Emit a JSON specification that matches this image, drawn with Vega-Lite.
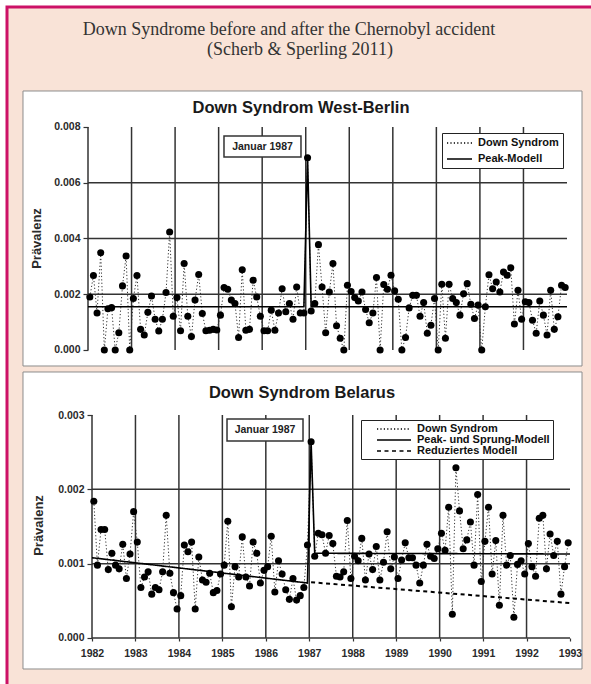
{
"$schema":"https://vega.github.io/schema/vega-lite/v6.json",
"width":591,"height":684,
"autosize":{"type":"fit","contains":"padding"},
"padding":{"left":7,"top":7,"right":-4,"bottom":-4},
"background":"white",
"view":{"fill":"#f9e3d7","stroke":"#cc1166","strokeWidth":3},
"datasets":{
"berlin":[
{"t":1982.042,"v":0.0019},{"t":1982.125,"v":0.00267},{"t":1982.208,"v":0.00133},{"t":1982.292,"v":0.00349},{"t":1982.375,"v":0},{"t":1982.458,"v":0.00148},{"t":1982.542,"v":0.00152},{"t":1982.625,"v":0},{"t":1982.708,"v":0.00062},{"t":1982.792,"v":0.0023},{"t":1982.875,"v":0.00337},{"t":1982.958,"v":0},
{"t":1983.042,"v":0.00185},{"t":1983.125,"v":0.00267},{"t":1983.208,"v":0.00074},{"t":1983.292,"v":0.00054},{"t":1983.375,"v":0.00135},{"t":1983.458,"v":0.00194},{"t":1983.542,"v":0.0011},{"t":1983.625,"v":0.00068},{"t":1983.708,"v":0.0011},{"t":1983.792,"v":0.00206},{"t":1983.875,"v":0.00423},{"t":1983.958,"v":0.00121},
{"t":1984.042,"v":0.00188},{"t":1984.125,"v":0.00069},{"t":1984.208,"v":0.0031},{"t":1984.292,"v":0.00121},{"t":1984.375,"v":0.00048},{"t":1984.458,"v":0.00179},{"t":1984.542,"v":0.00271},{"t":1984.625,"v":0.00131},{"t":1984.708,"v":0.00069},{"t":1984.792,"v":0.00071},{"t":1984.875,"v":0.00074},{"t":1984.958,"v":0.00072},
{"t":1985.042,"v":0.00125},{"t":1985.125,"v":0.00224},{"t":1985.208,"v":0.00218},{"t":1985.292,"v":0.00179},{"t":1985.375,"v":0.00167},{"t":1985.458,"v":0.00045},{"t":1985.542,"v":0.00288},{"t":1985.625,"v":0.00071},{"t":1985.708,"v":0.00074},{"t":1985.792,"v":0.0025},{"t":1985.875,"v":0.0019},{"t":1985.958,"v":0.00121},
{"t":1986.042,"v":0.00069},{"t":1986.125,"v":0.00069},{"t":1986.208,"v":0.00143},{"t":1986.292,"v":0.00071},{"t":1986.375,"v":0.00133},{"t":1986.458,"v":0.0022},{"t":1986.542,"v":0.00137},{"t":1986.625,"v":0.00167},{"t":1986.708,"v":0.0011},{"t":1986.792,"v":0.00226},{"t":1986.875,"v":0.00133},{"t":1986.958,"v":0.00133},
{"t":1987.042,"v":0.0069},{"t":1987.125,"v":0.0014},{"t":1987.208,"v":0.00167},{"t":1987.292,"v":0.00378},{"t":1987.375,"v":0.00226},{"t":1987.458,"v":0.00062},{"t":1987.542,"v":0.00208},{"t":1987.625,"v":0.0031},{"t":1987.708,"v":0.00087},{"t":1987.792,"v":0.00042},{"t":1987.875,"v":0},{"t":1987.958,"v":0.00232},
{"t":1988.042,"v":0.0021},{"t":1988.125,"v":0.00188},{"t":1988.208,"v":0.00176},{"t":1988.292,"v":0.00208},{"t":1988.375,"v":0.00145},{"t":1988.458,"v":0.00098},{"t":1988.542,"v":0.00133},{"t":1988.625,"v":0.0026},{"t":1988.708,"v":0},{"t":1988.792,"v":0.00235},{"t":1988.875,"v":0.00218},{"t":1988.958,"v":0.00268},
{"t":1989.042,"v":0.00212},{"t":1989.125,"v":0.00182},{"t":1989.208,"v":0},{"t":1989.292,"v":0.00045},{"t":1989.375,"v":0.00151},{"t":1989.458,"v":0.00196},{"t":1989.542,"v":0.00196},{"t":1989.625,"v":0.00121},{"t":1989.708,"v":0.0017},{"t":1989.792,"v":0.0006},{"t":1989.875,"v":0.00089},{"t":1989.958,"v":0.00185},
{"t":1990.042,"v":0},{"t":1990.125,"v":0.00236},{"t":1990.208,"v":0.00042},{"t":1990.292,"v":0.00236},{"t":1990.375,"v":0.00185},{"t":1990.458,"v":0.0017},{"t":1990.542,"v":0.00125},{"t":1990.625,"v":0.00202},{"t":1990.708,"v":0.00238},{"t":1990.792,"v":0.00164},{"t":1990.875,"v":0.00113},{"t":1990.958,"v":0.00161},
{"t":1991.042,"v":0},{"t":1991.125,"v":0.00155},{"t":1991.208,"v":0.0027},{"t":1991.292,"v":0.0022},{"t":1991.375,"v":0.00244},{"t":1991.458,"v":0.00208},{"t":1991.542,"v":0.0028},{"t":1991.625,"v":0.00268},{"t":1991.708,"v":0.00295},{"t":1991.792,"v":0.00093},{"t":1991.875,"v":0.00214},{"t":1991.958,"v":0.0011},
{"t":1992.042,"v":0.00173},{"t":1992.125,"v":0.0017},{"t":1992.208,"v":0.00107},{"t":1992.292,"v":0.0006},{"t":1992.375,"v":0.00176},{"t":1992.458,"v":0.00125},{"t":1992.542,"v":0.00054},{"t":1992.625,"v":0.00214},{"t":1992.708,"v":0.00074},{"t":1992.792,"v":0.00119},{"t":1992.875,"v":0.00232},{"t":1992.958,"v":0.00224}
],
"belarus":[
{"t":1982.042,"v":0.00184},{"t":1982.125,"v":0.00098},{"t":1982.208,"v":0.00146},{"t":1982.292,"v":0.00146},{"t":1982.375,"v":0.00092},{"t":1982.458,"v":0.00114},{"t":1982.542,"v":0.00098},{"t":1982.625,"v":0.00093},{"t":1982.708,"v":0.00126},{"t":1982.792,"v":0.0008},{"t":1982.875,"v":0.00113},{"t":1982.958,"v":0.0017},
{"t":1983.042,"v":0.00129},{"t":1983.125,"v":0.00068},{"t":1983.208,"v":0.00082},{"t":1983.292,"v":0.00089},{"t":1983.375,"v":0.00059},{"t":1983.458,"v":0.00068},{"t":1983.542,"v":0.00065},{"t":1983.625,"v":0.00089},{"t":1983.708,"v":0.00165},{"t":1983.792,"v":0.00087},{"t":1983.875,"v":0.00061},{"t":1983.958,"v":0.00039},
{"t":1984.042,"v":0.00057},{"t":1984.125,"v":0.00125},{"t":1984.208,"v":0.00116},{"t":1984.292,"v":0.00129},{"t":1984.375,"v":0.00039},{"t":1984.458,"v":0.00109},{"t":1984.542,"v":0.00078},{"t":1984.625,"v":0.00075},{"t":1984.708,"v":0.00087},{"t":1984.792,"v":0.00061},{"t":1984.875,"v":0.00064},{"t":1984.958,"v":0.00086},
{"t":1985.042,"v":0.00098},{"t":1985.125,"v":0.00157},{"t":1985.208,"v":0.00042},{"t":1985.292,"v":0.00096},{"t":1985.375,"v":0.00082},{"t":1985.458,"v":0.00136},{"t":1985.542,"v":0.00082},{"t":1985.625,"v":0.0007},{"t":1985.708,"v":0.00129},{"t":1985.792,"v":0.00114},{"t":1985.875,"v":0.00074},{"t":1985.958,"v":0.00091},
{"t":1986.042,"v":0.00096},{"t":1986.125,"v":0.00137},{"t":1986.208,"v":0.00062},{"t":1986.292,"v":0.00104},{"t":1986.375,"v":0.00086},{"t":1986.458,"v":0.00065},{"t":1986.542,"v":0.00052},{"t":1986.625,"v":0.0008},{"t":1986.708,"v":0.00051},{"t":1986.792,"v":0.00057},{"t":1986.875,"v":0.00068},{"t":1986.958,"v":0.00125},
{"t":1987.042,"v":0.00264},{"t":1987.125,"v":0.0011},{"t":1987.208,"v":0.00141},{"t":1987.292,"v":0.00139},{"t":1987.375,"v":0.00114},{"t":1987.458,"v":0.00138},{"t":1987.542,"v":0.00127},{"t":1987.625,"v":0.00083},{"t":1987.708,"v":0.00082},{"t":1987.792,"v":0.00089},{"t":1987.875,"v":0.00158},{"t":1987.958,"v":0.0008},
{"t":1988.042,"v":0.0011},{"t":1988.125,"v":0.00104},{"t":1988.208,"v":0.00134},{"t":1988.292,"v":0.00078},{"t":1988.375,"v":0.00113},{"t":1988.458,"v":0.00092},{"t":1988.542,"v":0.00123},{"t":1988.625,"v":0.00078},{"t":1988.708,"v":0.00102},{"t":1988.792,"v":0.00143},{"t":1988.875,"v":0.00093},{"t":1988.958,"v":0.00109},
{"t":1989.042,"v":0.0008},{"t":1989.125,"v":0.00105},{"t":1989.208,"v":0.00128},{"t":1989.292,"v":0.00108},{"t":1989.375,"v":0.00108},{"t":1989.458,"v":0.00098},{"t":1989.542,"v":0.00074},{"t":1989.625,"v":0.00098},{"t":1989.708,"v":0.00126},{"t":1989.792,"v":0.0011},{"t":1989.875,"v":0.00107},{"t":1989.958,"v":0.0012},
{"t":1990.042,"v":0.00141},{"t":1990.125,"v":0.00118},{"t":1990.208,"v":0.00176},{"t":1990.292,"v":0.00032},{"t":1990.375,"v":0.00229},{"t":1990.458,"v":0.00171},{"t":1990.542,"v":0.0012},{"t":1990.625,"v":0.00132},{"t":1990.708,"v":0.00156},{"t":1990.792,"v":0.00098},{"t":1990.875,"v":0.00193},{"t":1990.958,"v":0.00076},
{"t":1991.042,"v":0.0013},{"t":1991.125,"v":0.00176},{"t":1991.208,"v":0.00086},{"t":1991.292,"v":0.00131},{"t":1991.375,"v":0.00044},{"t":1991.458,"v":0.00165},{"t":1991.542,"v":0.00098},{"t":1991.625,"v":0.00111},{"t":1991.708,"v":0.00028},{"t":1991.792,"v":0.00099},{"t":1991.875,"v":0.00104},{"t":1991.958,"v":0.00086},
{"t":1992.042,"v":0.00127},{"t":1992.125,"v":0.00096},{"t":1992.208,"v":0.00083},{"t":1992.292,"v":0.00161},{"t":1992.375,"v":0.00165},{"t":1992.458,"v":0.00093},{"t":1992.542,"v":0.0014},{"t":1992.625,"v":0.00111},{"t":1992.708,"v":0.0013},{"t":1992.792,"v":0.00059},{"t":1992.875,"v":0.00096},{"t":1992.958,"v":0.00128}
],
"berlinModel":[{"t":1982,"m":0.00155},{"t":1986.958,"m":0.00155},{"t":1987.042,"m":0.0069},{"t":1987.125,"m":0.00155},{"t":1993,"m":0.00155}],
"belarusModel":[{"t":1982,"m":0.00108},{"t":1986.958,"m":0.00074},{"t":1987.042,"m":0.00264},{"t":1987.125,"m":0.00114},{"t":1993,"m":0.00113}],
"belarusReduced":[{"t":1987.042,"m":0.00075},{"t":1993,"m":0.00047}]
},
"layer":[
 {"data":{"values":[{}]},"mark":{"type":"rect","fill":"white","stroke":"#8c8c8c","strokeWidth":1},
  "encoding":{"x":{"datum":1980.5073,"type":"quantitative","scale":{"domain":[1980.13987,1993.643],"nice":false,"zero":false},"axis":null},"x2":{"datum":1993.3445},
   "y":{"datum":0.0092915,"type":"quantitative","scale":{"domain":[-0.0121256,0.0123049],"nice":false,"zero":false},"axis":null},"y2":{"datum":-0.000574}}},
 {"data":{"values":[{"yr":1982},{"yr":1983},{"yr":1984},{"yr":1985},{"yr":1986},{"yr":1987},{"yr":1988},{"yr":1989},{"yr":1990},{"yr":1991},{"yr":1992}]},
  "mark":{"type":"rule","color":"#333","strokeWidth":1.5},
  "encoding":{"x":{"field":"yr","type":"quantitative","scale":{"domain":[1980.13987,1993.643],"nice":false,"zero":false},"axis":null},
   "y":{"datum":0,"type":"quantitative","scale":{"domain":[-0.0121256,0.0123049],"nice":false,"zero":false},"axis":null},"y2":{"datum":0.008}}},
 {"data":{"values":[{"g":0.002},{"g":0.004},{"g":0.006}]},
  "mark":{"type":"rule","color":"#333","strokeWidth":1.5},
  "encoding":{"y":{"field":"g","type":"quantitative","scale":{"domain":[-0.0121256,0.0123049],"nice":false,"zero":false},"axis":null},
   "x":{"datum":1982,"type":"quantitative","scale":{"domain":[1980.13987,1993.643],"nice":false,"zero":false},"axis":null},"x2":{"datum":1993}}},
 {"data":{"values":[{}]},"mark":{"type":"rect","fill":"white","stroke":"#333","strokeWidth":1.5},
  "encoding":{"x":{"datum":1985.123,"type":"quantitative","scale":{"domain":[1980.13987,1993.643],"nice":false,"zero":false},"axis":null},"x2":{"datum":1986.891},
   "y":{"datum":0.007677,"type":"quantitative","scale":{"domain":[-0.0121256,0.0123049],"nice":false,"zero":false},"axis":null},"y2":{"datum":0.006924}}},
 {"data":{"values":[{"label":"Januar 1987"}]},"mark":{"type":"text","font":"Liberation Sans","fontWeight":"bold","fontSize":10.5,"color":"#222","align":"center","baseline":"middle"},
  "encoding":{"text":{"field":"label"},"x":{"datum":1986.007,"type":"quantitative","scale":{"domain":[1980.13987,1993.643],"nice":false,"zero":false},"axis":null},
   "y":{"datum":0.0073,"type":"quantitative","scale":{"domain":[-0.0121256,0.0123049],"nice":false,"zero":false},"axis":null}}},
 {"data":{"values":[{"label":"Down Syndrom West-Berlin"}]},"mark":{"type":"text","font":"Liberation Sans","fontWeight":"bold","fontSize":16.5,"color":"#1a1a1a","align":"center","baseline":"middle"},
  "encoding":{"text":{"field":"label"},"x":{"datum":1986.891,"type":"quantitative","scale":{"domain":[1980.13987,1993.643],"nice":false,"zero":false},"axis":null},
   "y":{"datum":0.0086816,"type":"quantitative","scale":{"domain":[-0.0121256,0.0123049],"nice":false,"zero":false},"axis":null}}},
 {"data":{"values":[{"label":"Down Syndrome before and after the Chernobyl accident"}]},"mark":{"type":"text","font":"Liberation Serif","fontSize":18,"color":"#333","align":"center","baseline":"middle"},
  "encoding":{"text":{"field":"label"},"x":{"datum":1986.616,"type":"quantitative","scale":{"domain":[1980.13987,1993.643],"nice":false,"zero":false},"axis":null},
   "y":{"datum":0.01148,"type":"quantitative","scale":{"domain":[-0.0121256,0.0123049],"nice":false,"zero":false},"axis":null}}},
 {"data":{"values":[{"label":"(Scherb & Sperling 2011)"}]},"mark":{"type":"text","font":"Liberation Serif","fontSize":18,"color":"#333","align":"center","baseline":"middle"},
  "encoding":{"text":{"field":"label"},"x":{"datum":1986.869,"type":"quantitative","scale":{"domain":[1980.13987,1993.643],"nice":false,"zero":false},"axis":null},
   "y":{"datum":0.010762,"type":"quantitative","scale":{"domain":[-0.0121256,0.0123049],"nice":false,"zero":false},"axis":null}}},
 {"data":{"name":"berlin"},"mark":{"type":"line","color":"#333","strokeWidth":1},
  "encoding":{"x":{"field":"t","type":"quantitative","scale":{"domain":[1980.13987,1993.643],"nice":false,"zero":false},"axis":null},
   "y":{"field":"v","type":"quantitative","scale":{"domain":[-0.0121256,0.0123049],"nice":false,"zero":false},"axis":null},
   "strokeDash":{"datum":"Down Syndrom","type":"nominal","scale":{"domain":["Down Syndrom","Peak-Modell"],"range":[[1.2,2.2],[1,0]]},"legend":null}}},
 {"data":{"name":"berlinModel"},"mark":{"type":"line","color":"black","strokeWidth":1.6},
  "encoding":{"x":{"field":"t","type":"quantitative","scale":{"domain":[1980.13987,1993.643],"nice":false,"zero":false},"axis":null},
   "y":{"field":"m","type":"quantitative","scale":{"domain":[-0.0121256,0.0123049],"nice":false,"zero":false},"axis":null},
   "strokeDash":{"datum":"Peak-Modell","type":"nominal","scale":{"domain":["Down Syndrom","Peak-Modell"],"range":[[1.2,2.2],[1,0]]},
    "legend":{"orient":"none","legendX":435,"legendY":126,"title":null,"fillColor":"white","strokeColor":"#222","padding":4,"rowPadding":5,
     "labelFont":"Liberation Sans","labelFontWeight":"bold","labelFontSize":11,"labelColor":"#111","labelOffset":20,"symbolSize":100,"symbolType":"M-1,0H4","symbolStrokeWidth":1.4,"symbolStrokeColor":"black","zindex":1}}}},
 {"data":{"name":"berlin"},"mark":{"type":"circle","size":50,"color":"black","opacity":1},
  "encoding":{"x":{"field":"t","type":"quantitative","scale":{"domain":[1980.13987,1993.643],"nice":false,"zero":false},"axis":null},
   "y":{"field":"v","type":"quantitative","scale":{"domain":[-0.0121256,0.0123049],"nice":false,"zero":false},
    "axis":{"orient":"left","offset":-81,"values":[0,0.002,0.004,0.006,0.008],"format":".3f","grid":false,"domain":false,"ticks":true,"tickSize":5,"labelPadding":3,"labelOverlap":false,
     "title":"Prävalenz","titleFontSize":13,"titleX":-52,"titleY":231,"titleBaseline":"middle","titleAngle":270,"zindex":1}}}},

 {"data":{"values":[{}]},"mark":{"type":"rect","fill":"white","stroke":"#8c8c8c","strokeWidth":1},
  "encoding":{"x":{"datum":1980.41213,"type":"quantitative","scale":{"domain":[1980.04393,1993.57531],"nice":false,"zero":false},"axis":null},"x2":{"datum":1993.27615},
   "y":{"datum":0.0035785,"type":"quantitative","scale":{"domain":[-0.00067265,0.0084888],"nice":false,"zero":false},"axis":null},"y2":{"datum":-0.000417}}},
 {"data":{"values":[{"yr":1982},{"yr":1983},{"yr":1984},{"yr":1985},{"yr":1986},{"yr":1987},{"yr":1988},{"yr":1989},{"yr":1990},{"yr":1991},{"yr":1992}]},
  "mark":{"type":"rule","color":"#333","strokeWidth":1.5},
  "encoding":{"x":{"field":"yr","type":"quantitative","scale":{"domain":[1980.04393,1993.57531],"nice":false,"zero":false},"axis":null},
   "y":{"datum":0,"type":"quantitative","scale":{"domain":[-0.00067265,0.0084888],"nice":false,"zero":false},"axis":null},"y2":{"datum":0.003}}},
 {"data":{"values":[{"g":0},{"g":0.001},{"g":0.002}]},
  "mark":{"type":"rule","color":"#333","strokeWidth":1.5},
  "encoding":{"y":{"field":"g","type":"quantitative","scale":{"domain":[-0.00067265,0.0084888],"nice":false,"zero":false},"axis":null},
   "x":{"datum":1982,"type":"quantitative","scale":{"domain":[1980.04393,1993.57531],"nice":false,"zero":false},"axis":null},"x2":{"datum":1993}}},
 {"data":{"values":[{}]},"mark":{"type":"rect","fill":"white","stroke":"#333","strokeWidth":1.5},
  "encoding":{"x":{"datum":1985.107,"type":"quantitative","scale":{"domain":[1980.04393,1993.57531],"nice":false,"zero":false},"axis":null},"x2":{"datum":1986.856},
   "y":{"datum":0.002946,"type":"quantitative","scale":{"domain":[-0.00067265,0.0084888],"nice":false,"zero":false},"axis":null},"y2":{"datum":0.00265}}},
 {"data":{"values":[{"label":"Januar 1987"}]},"mark":{"type":"text","font":"Liberation Sans","fontWeight":"bold","fontSize":10.5,"color":"#222","align":"center","baseline":"middle"},
  "encoding":{"text":{"field":"label"},"x":{"datum":1985.981,"type":"quantitative","scale":{"domain":[1980.04393,1993.57531],"nice":false,"zero":false},"axis":null},
   "y":{"datum":0.0027982,"type":"quantitative","scale":{"domain":[-0.00067265,0.0084888],"nice":false,"zero":false},"axis":null}}},
 {"data":{"values":[{"label":"Down Syndrom Belarus"}]},"mark":{"type":"text","font":"Liberation Sans","fontWeight":"bold","fontSize":16.5,"color":"#1a1a1a","align":"center","baseline":"middle"},
  "encoding":{"text":{"field":"label"},"x":{"datum":1986.8326,"type":"quantitative","scale":{"domain":[1980.04393,1993.57531],"nice":false,"zero":false},"axis":null},
   "y":{"datum":0.003296,"type":"quantitative","scale":{"domain":[-0.00067265,0.0084888],"nice":false,"zero":false},"axis":null}}},
 {"data":{"name":"belarus"},"mark":{"type":"line","color":"#333","strokeWidth":1},
  "encoding":{"x":{"field":"t","type":"quantitative","scale":{"domain":[1980.04393,1993.57531],"nice":false,"zero":false},"axis":null},
   "y":{"field":"v","type":"quantitative","scale":{"domain":[-0.00067265,0.0084888],"nice":false,"zero":false},"axis":null},
   "strokeDash":{"datum":"Down Syndrom","type":"nominal","scale":{"domain":["Down Syndrom","Peak- und Sprung-Modell","Reduziertes Modell"],"range":[[1.2,2.2],[1,0],[4,3.5]]},"legend":null}}},
 {"data":{"name":"belarusReduced"},"mark":{"type":"line","color":"black","strokeWidth":2},
  "encoding":{"x":{"field":"t","type":"quantitative","scale":{"domain":[1980.04393,1993.57531],"nice":false,"zero":false},"axis":null},
   "y":{"field":"m","type":"quantitative","scale":{"domain":[-0.00067265,0.0084888],"nice":false,"zero":false},"axis":null},
   "strokeDash":{"datum":"Reduziertes Modell","type":"nominal","scale":{"domain":["Down Syndrom","Peak- und Sprung-Modell","Reduziertes Modell"],"range":[[1.2,2.2],[1,0],[4,3.5]]},"legend":null}}},
 {"data":{"name":"belarusModel"},"mark":{"type":"line","color":"black","strokeWidth":1.6},
  "encoding":{"x":{"field":"t","type":"quantitative","scale":{"domain":[1980.04393,1993.57531],"nice":false,"zero":false},"axis":null},
   "y":{"field":"m","type":"quantitative","scale":{"domain":[-0.00067265,0.0084888],"nice":false,"zero":false},"axis":null},
   "strokeDash":{"datum":"Peak- und Sprung-Modell","type":"nominal","scale":{"domain":["Down Syndrom","Peak- und Sprung-Modell","Reduziertes Modell"],"range":[[1.2,2.2],[1,0],[4,3.5]]},
    "legend":{"orient":"none","legendX":354,"legendY":413,"title":null,"fillColor":"white","strokeColor":"#222","padding":3,"rowPadding":0,
     "labelFont":"Liberation Sans","labelFontWeight":"bold","labelFontSize":11,"labelColor":"#111","labelOffset":41,"symbolSize":100,"symbolType":"M1.4,0H8.2","symbolStrokeWidth":1.6,"symbolStrokeColor":"black","zindex":1}}}},
 {"data":{"name":"belarus"},"mark":{"type":"circle","size":50,"color":"black","opacity":1},
  "encoding":{"x":{"field":"t","type":"quantitative","scale":{"domain":[1980.04393,1993.57531],"nice":false,"zero":false},
    "axis":{"orient":"bottom","offset":-50,"values":[1982,1983,1984,1985,1986,1987,1988,1989,1990,1991,1992,1993],"format":"d","grid":false,"domain":false,"ticks":true,"tickSize":3,"labelPadding":7,"labelOverlap":false,"labelFlush":false,"title":null,"zindex":1}},
   "y":{"field":"v","type":"quantitative","scale":{"domain":[-0.00067265,0.0084888],"nice":false,"zero":false},
    "axis":{"orient":"left","offset":-85,"values":[0,0.001,0.002,0.003],"format":".3f","grid":false,"domain":false,"ticks":true,"tickSize":5,"labelPadding":3,"labelOverlap":false,
     "title":"Prävalenz","titleFontSize":13,"titleX":-54,"titleY":518,"titleBaseline":"middle","titleAngle":270,"zindex":1}}}}
],
"resolve":{"scale":{"x":"independent","y":"independent","strokeDash":"independent"}},
"config":{
 "axis":{"labelFont":"Liberation Sans","labelFontWeight":"bold","labelFontSize":10.5,"labelColor":"#2a2a2a","tickColor":"#333","tickWidth":1.2,"titleFont":"Liberation Sans","titleFontWeight":"bold","titleColor":"#2a2a2a"}
}
}
